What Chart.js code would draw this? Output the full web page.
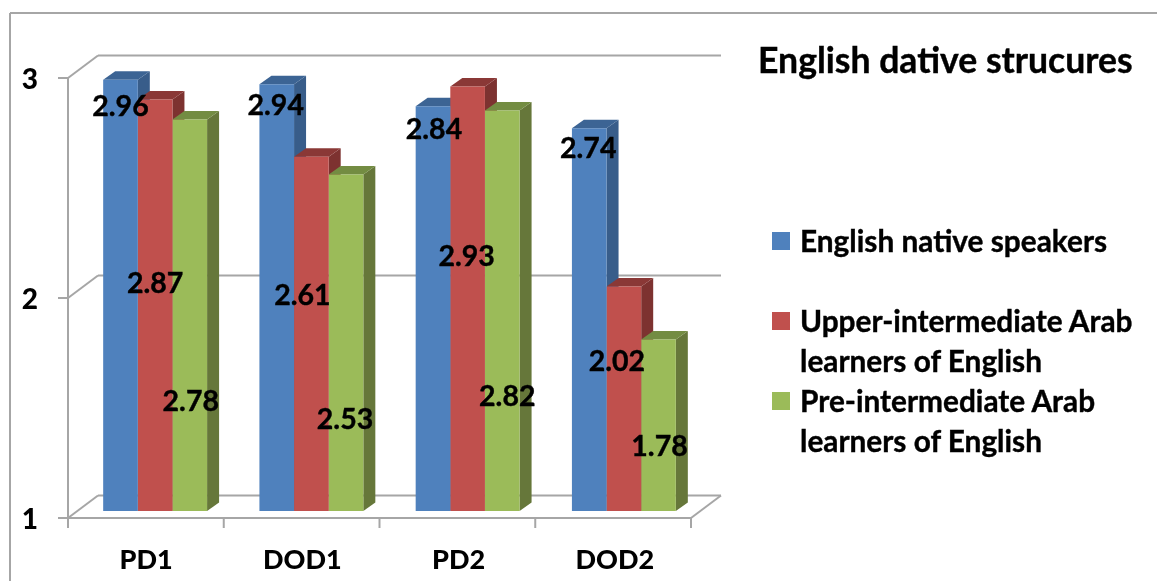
<!DOCTYPE html>
<html>
<head>
<meta charset="utf-8">
<title>English dative strucures</title>
<script src="https://cdn.jsdelivr.net/npm/chart.js@4"></script>
<style>
    html, body { margin: 0; padding: 0; background: #fff; overflow: hidden; }
    #wrap { position: relative; width: 1157px; height: 581px; font-family: Lato, sans-serif; font-weight: 700; color: #000; }
    #judul { position: absolute; left: 758px; top: 40px; font-size: 35.6px; line-height: 40px; white-space: nowrap; -webkit-text-stroke: 0.4px #000; }
    .legend-kotak { position: absolute; left: 772px; width: 18px; height: 18px; }
    .legend-teks { position: absolute; left: 800px; width: 352px; font-size: 29.8px; line-height: 39.5px; -webkit-text-stroke: 0.4px #000; }
</style>
</head>
<body>
<div id="wrap">
    <canvas id="chart-dative" width="1157" height="581"></canvas>
    <div id="judul"></div>
    <div id="legend"></div>
</div>
<script>
const judul = "English dative strucures";
const kategori = ["PD1", "DOD1", "PD2", "DOD2"];
const nativeSpeakers = [2.96, 2.94, 2.84, 2.74];
const upperIntermediate = [2.87, 2.61, 2.93, 2.02];
const preIntermediate = [2.78, 2.53, 2.82, 1.78];
const namaSeri = [
    "English native speakers",
    "Upper-intermediate Arab learners of English",
    "Pre-intermediate Arab learners of English",
];

// warna depan, samping, atas
const warnaDepan = ["#4F81BD", "#C0504D", "#9BBB59"];
const warnaSamping = ["#385D8A", "#7D3230", "#66773A"];
const warnaAtas = ["#3C6494", "#8A3836", "#738C42"];
const warnaGaris = "#A6A6A6";

// posisi label data digeser manual dari puncak batang, per seri
const geserLabelX = [[0, -1, 1, -1], [0, -9, -1, -7], [1, -1, 5, 1]];
const geserLabelY = [[27, 22, 24, 21], [184, 139, 170, 75], [282, 245, 286, 107]];

const legendTop = [232, 312, 392];

const depanX = -9, depanY = 7;      // dinding depan dari area chart
const dindingX = 30, dindingY = -22.5; // kedalaman dinding
const batangX = 12, batangY = -8.5;  // kedalaman batang

function garis(ctx, x1, y1, x2, y2) {
    ctx.beginPath();
    ctx.moveTo(x1, y1);
    ctx.lineTo(x2, y2);
    ctx.stroke();
}

function bidang(ctx, warna, titik) {
    ctx.fillStyle = warna;
    ctx.beginPath();
    titik.forEach(function (p, i) {
        if (i === 0) ctx.moveTo(p[0], p[1]);
        else ctx.lineTo(p[0], p[1]);
    });
    ctx.closePath();
    ctx.fill();
}

const dinding3d = {
    id: "dinding3d",
    beforeDatasetsDraw(chart) {
        const ctx = chart.ctx;
        const area = chart.chartArea;
        const skalaY = chart.scales.y;
        const kiri = area.left + depanX;
        const kanan = area.right + depanX - 2;
        const bawah = skalaY.getPixelForValue(1) + depanY;

        ctx.save();
        ctx.strokeStyle = warnaGaris;
        ctx.lineWidth = 2;

        // bingkai luar
        garis(ctx, 10, 13, 1157, 13);
        garis(ctx, 10, 13, 10, 581);

        // garis grid belakang dan diagonalnya
        skalaY.ticks.forEach(function (t) {
            const y = skalaY.getPixelForValue(t.value) + depanY;
            garis(ctx, kiri - 10, y, kiri, y);
            garis(ctx, kiri, y, kiri + dindingX, y + dindingY);
            garis(ctx, kiri + dindingX, y + dindingY, kanan + dindingX, y + dindingY);
        });
        garis(ctx, kanan, bawah, kanan + dindingX, bawah + dindingY);

        // sumbu depan
        garis(ctx, kiri, skalaY.getPixelForValue(3) + depanY, kiri, bawah + 10);
        garis(ctx, kiri, bawah, kanan, bawah);
        for (let i = 0; i <= kategori.length; i++) {
            const x = kiri + (i * (kanan - kiri)) / kategori.length;
            garis(ctx, x, bawah, x, bawah + 10);
        }

        // sisi samping dan atas batang, urut dari kiri ke kanan
        chart.data.datasets.forEach(function (ds, s) {
            chart.getDatasetMeta(s).data.forEach(function (bar) {
                const p = bar.getProps(["x", "y", "base", "width"], true);
                const l = p.x - p.width / 2;
                const r = p.x + p.width / 2;
                bidang(ctx, warnaSamping[s], [
                    [r, p.y], [r + batangX, p.y + batangY],
                    [r + batangX, p.base + batangY], [r, p.base],
                ]);
                bidang(ctx, warnaAtas[s], [
                    [l, p.y], [l + batangX, p.y + batangY],
                    [r + batangX, p.y + batangY], [r, p.y],
                ]);
            });
        });
        ctx.restore();
    },
};

const labelData = {
    id: "labelData",
    afterDatasetsDraw(chart) {
        const ctx = chart.ctx;
        ctx.save();
        ctx.font = "700 28.5px Lato";
        ctx.fillStyle = "#000";
        ctx.strokeStyle = "#000";
        ctx.lineWidth = 0.4;
        ctx.textAlign = "center";
        ctx.textBaseline = "middle";
        chart.data.datasets.forEach(function (ds, s) {
            chart.getDatasetMeta(s).data.forEach(function (bar, i) {
                const p = bar.getProps(["x", "y"], true);
                const x = p.x + geserLabelX[s][i];
                const y = p.y + geserLabelY[s][i];
                ctx.fillText(ds.data[i].toFixed(2), x, y);
                ctx.strokeText(ds.data[i].toFixed(2), x, y);
            });
        });
        ctx.restore();
    },
};

function buatDataset(label, data, warna) {
    return {
        label: label,
        data: data,
        base: 1,
        backgroundColor: warna,
        categoryPercentage: 0.665,
        barPercentage: 1,
    };
}

new Chart(document.getElementById("chart-dative"), {
    type: "bar",
    data: {
        labels: kategori,
        datasets: [
            buatDataset(namaSeri[0], nativeSpeakers, warnaDepan[0]),
            buatDataset(namaSeri[1], upperIntermediate, warnaDepan[1]),
            buatDataset(namaSeri[2], preIntermediate, warnaDepan[2]),
        ],
    },
    options: {
        responsive: false,
        animation: false,
        layout: { padding: { top: 71, right: 455, left: 0, bottom: 0 } },
        plugins: { legend: { display: false }, title: { display: false }, tooltip: { enabled: false } },
        scales: {
            x: {
                grid: { display: false },
                border: { display: false },
                afterFit(scale) { scale.height = 70; },
                ticks: {
                    color: "#000",
                    font: { family: "Lato", size: 27, weight: "900" },
                    padding: 25,
                    labelOffset: depanX,
                    maxRotation: 0,
                },
            },
            y: {
                min: 1,
                max: 3,
                grid: { display: false },
                border: { display: false },
                afterFit(scale) { scale.width = 77; },
                ticks: {
                    stepSize: 1,
                    color: "#000",
                    font: { family: "Lato", size: 28, weight: "900" },
                    padding: 31,
                    labelOffset: depanY + 2,
                },
            },
        },
    },
    plugins: [dinding3d, labelData],
});

document.getElementById("judul").textContent = judul;
const legend = document.getElementById("legend");
namaSeri.forEach(function (nama, i) {
    const kotak = document.createElement("div");
    kotak.className = "legend-kotak";
    kotak.style.top = legendTop[i] + "px";
    kotak.style.background = warnaDepan[i];
    const teks = document.createElement("div");
    teks.className = "legend-teks";
    teks.style.top = legendTop[i] - 11 + "px";
    teks.textContent = nama;
    legend.appendChild(kotak);
    legend.appendChild(teks);
});
</script>
</body>
</html>
